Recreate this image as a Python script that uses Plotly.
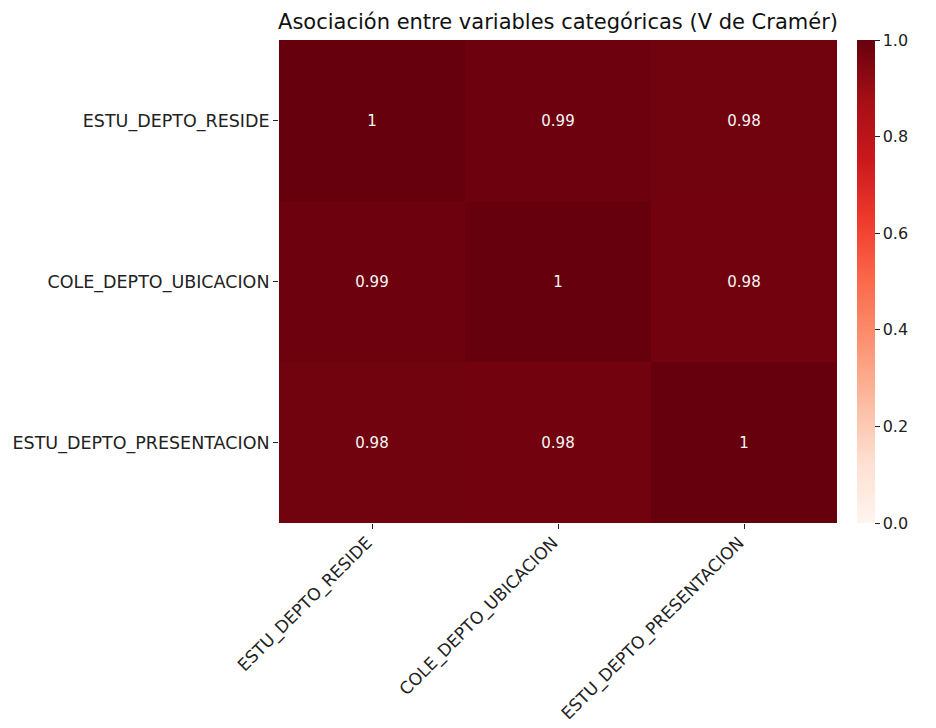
import plotly.graph_objects as go

labels = ["ESTU_DEPTO_RESIDE", "COLE_DEPTO_UBICACION", "ESTU_DEPTO_PRESENTACION"]
values = [
    [1.000, 0.988, 0.979],
    [0.988, 1.000, 0.977],
    [0.979, 0.977, 1.000],
]
title_text = "Asociación entre variables categóricas (V de Cramér)"

reds = [
    [0.0, "#fff5f0"], [0.125, "#fee0d2"], [0.25, "#fcbba1"], [0.375, "#fc9272"],
    [0.5, "#fb6a4a"], [0.625, "#ef3b2c"], [0.75, "#cb181d"], [0.875, "#a50f15"],
    [1.0, "#67000d"],
]

text = [[f"{v:.2g}" for v in row] for row in values]

W, H = 936, 728
L, R, T, B = 279, 99, 40, 205
plot_w = W - L - R

fig = go.Figure(go.Heatmap(
    z=values, x=labels, y=labels, text=text, texttemplate="%{text}",
    textfont=dict(color="#f5f5f5", size=15, family="DejaVu Sans"),
    colorscale=reds, zmin=0, zmax=1, xgap=0, ygap=0,
    colorbar=dict(
        x=1 + 20 / plot_w, xanchor="left", xpad=0, ypad=0,
        y=0.5, yanchor="middle", len=1, lenmode="fraction",
        thickness=18, outlinewidth=0,
        tickvals=[0, 0.2, 0.4, 0.6, 0.8, 1.0], tickformat=".1f",
        ticks="outside", ticklen=5, tickcolor="#222",
        tickfont=dict(size=16, family="DejaVu Sans", color="#222"),
    ),
))

fig.update_layout(
    width=W, height=H,
    margin=dict(l=L, r=R, t=T, b=B, pad=0, autoexpand=False),
    paper_bgcolor="white", plot_bgcolor="white",
    font=dict(family="DejaVu Sans", color="#222"),
    title=dict(text=title_text, x=(L + plot_w / 2) / W, xanchor="center",
               y=1 - 22 / H, yanchor="middle",
               font=dict(size=21, family="DejaVu Sans", color="#111")),
)
fig.update_xaxes(tickangle=-45, ticks="outside", ticklen=5, tickcolor="#222", automargin=False,
                 ticklabelshift=-5, ticklabelstandoff=-3,
                 tickfont=dict(size=17), showgrid=False, zeroline=False, showline=False)
fig.update_yaxes(autorange="reversed", ticks="outside", ticklen=5, tickcolor="#222", automargin=False,
                 tickfont=dict(size=17.5), showgrid=False, zeroline=False, showline=False)

fig.write_html("out.html")
